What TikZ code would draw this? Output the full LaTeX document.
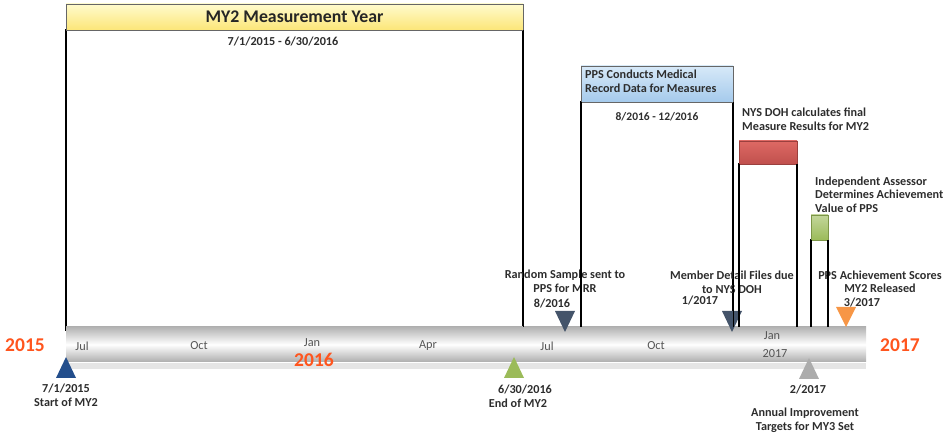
\documentclass[tikz,border=0pt]{standalone}
\usepackage{fontspec}
\setmainfont{Carlito}
\definecolor{yearc}{RGB}{255,85,30}
\definecolor{slatec}{RGB}{68,84,106}
\definecolor{tbluec}{RGB}{35,78,140}
\definecolor{tgreenc}{RGB}{155,187,89}
\definecolor{torangec}{RGB}{247,150,70}
\definecolor{tgrayc}{RGB}{172,172,172}
\definecolor{lblc}{RGB}{45,45,45}
\definecolor{monc}{RGB}{85,85,85}
\definecolor{redtop}{RGB}{222,105,100}
\definecolor{redbot}{RGB}{192,80,77}
\definecolor{yeltop}{RGB}{255,251,205}
\definecolor{yelbot}{RGB}{252,230,120}
\definecolor{blutop}{RGB}{215,233,248}
\definecolor{blubot}{RGB}{165,202,236}
\begin{document}
\begin{tikzpicture}[x=1pt,y=-1pt,
  lbl/.style={font=\fontsize{12.2}{13.6}\selectfont\bfseries, text=lblc, inner sep=0pt, align=center},
  lbll/.style={lbl, align=left, anchor=west},
  mon/.style={font=\fontsize{12.3}{13}\selectfont, text=monc, inner sep=0pt},
  yr/.style={font=\fontsize{19.5}{20}\selectfont\bfseries, text=yearc, inner sep=0pt},
  body/.style={draw=black, line width=1.6pt},
  hdr/.style={draw=black!60, line width=0.6pt},
]
\useasboundingbox (0,0) rectangle (945,435);

% boxes (bodies)
\draw[body] (66,30) rectangle (523,330);
\draw[body] (581,102) rectangle (733,330);
\draw[body] (739,164) rectangle (797,330);
\draw[body] (811,240) rectangle (828,330);

% headers
\node[hdr, top color=yeltop, bottom color=yelbot, minimum width=457pt, minimum height=26pt, inner sep=0pt,
      font=\fontsize{17.8}{19}\selectfont\bfseries, text=black!85] (my2) at (294.5,17) {MY2 Measurement Year};
\node[hdr, top color=blutop, bottom color=blubot, minimum width=152pt, minimum height=36pt, inner sep=0pt] (pps) at (657,84) {};
\node[draw=redbot!80!black, line width=0.4pt, top color=redtop, bottom color=redbot, minimum width=58pt, minimum height=23pt, inner sep=0pt] (nys) at (768,152.5) {};
\node[draw=tgreenc!80!black, line width=0.4pt, top color=tgreenc!60!white, bottom color=tgreenc, minimum width=17pt, minimum height=25pt, inner sep=0pt] (ia) at (819.5,227.5) {};

% header texts
\node[lbl] (my2d) at (283,42) {7/1/2015 - 6/30/2016};
\node[lbll] (ppst) at (585,81) {PPS Conducts Medical\\Record Data for Measures};
\node[lbl, font=\fontsize{11.5}{12}\selectfont\bfseries] (ppsd) at (657,117) {8/2016 - 12/2016};
\node[lbll] (nyst) at (742,119) {NYS DOH calculates final\\Measure Results for MY2};
\node[lbll] (iat) at (815,194.5) {Independent Assessor\\Determines Achievement\\Value of PPS};

% timeline bar
\fill[black!10] (66,362) rectangle (866,369);
\node[minimum width=800pt, minimum height=35pt, inner sep=0pt,
      top color=black!30, bottom color=black!32, middle color=white] (bar) at (466,344.5) {};
\draw[white, line width=1pt] (66,363) -- (866,363);

% months
\node[mon] (m1) at (82,346) {Jul};
\node[mon] (m2) at (199,346) {Oct};
\node[mon] (m3) at (312,343) {Jan};
\node[mon] (m4) at (428,346) {Apr};
\node[mon] (m5) at (547,346) {Jul};
\node[mon] (m6) at (656,346) {Oct};
\node[mon] (m7) at (772,336) {Jan};
\node[mon] (m8) at (775,354) {2017};

% years
\node[yr] (y15) at (25,345) {2015};
\node[yr] (y16) at (314,360) {2016};
\node[yr] (y17) at (900,345) {2017};

% triangles
\coordinate (tstart) at (66,357);
\fill[tbluec] (tstart) -- ++(10,21) -- ++(-20,0) -- cycle;
\coordinate (tend) at (514,357);
\fill[tgreenc] (tend) -- ++(10,21) -- ++(-20,0) -- cycle;
\coordinate (ttarg) at (809,358);
\fill[tgrayc] (ttarg) -- ++(10,21) -- ++(-20,0) -- cycle;
\coordinate (tsamp) at (565,332);
\fill[slatec] (tsamp) -- ++(10,-21) -- ++(-20,0) -- cycle;
\coordinate (tmem) at (732,332);
\fill[slatec] (tmem) -- ++(10,-21) -- ++(-20,0) -- cycle;
\coordinate (tach) at (846,327);
\fill[torangec] (tach) -- ++(10,-20) -- ++(-20,0) -- cycle;

% marker labels
\node[lbl] (l1) at (66,395) {7/1/2015\\Start of MY2};
\node[lbl] (l2a) at (525,389) {6/30/2016};
\node[lbl] (l2b) at (518,403) {End of MY2};
\node[lbl] (l3a) at (808,389) {2/2017};
\node[lbl] (l3b) at (805,420) {Annual Improvement\\Targets for MY3 Set};
\node[lbl] (l4a) at (565,281) {Random Sample sent to\\PPS for MRR};
\node[lbl] (l4b) at (552,303) {8/2016};
\node[lbl] (l5a) at (732,282) {Member Detail Files due\\to NYS DOH};
\node[lbl] (l5b) at (700,300) {1/2017};
\node[lbl, font=\fontsize{12.2}{12.5}\selectfont\bfseries] (l6a) at (880,282) {PPS Achievement Scores\\MY2 Released};
\node[lbl] (l6b) at (862,302) {3/2017};

% vertical connector lines redrawn over labels
\draw[body] (my2.south east) -- (my2.south east |- bar.north);
\draw[body] (pps.south west) -- (pps.south west |- bar.north);
\draw[body] (pps.south east) -- (pps.south east |- bar.north);
\draw[body] (nys.south west) -- (nys.south west |- bar.north);
\draw[body] (nys.south east) -- (nys.south east |- bar.north);
\draw[body] (ia.south west) -- (ia.south west |- bar.north);
\draw[body] (ia.south east) -- (ia.south east |- bar.north);
\end{tikzpicture}
\end{document}
